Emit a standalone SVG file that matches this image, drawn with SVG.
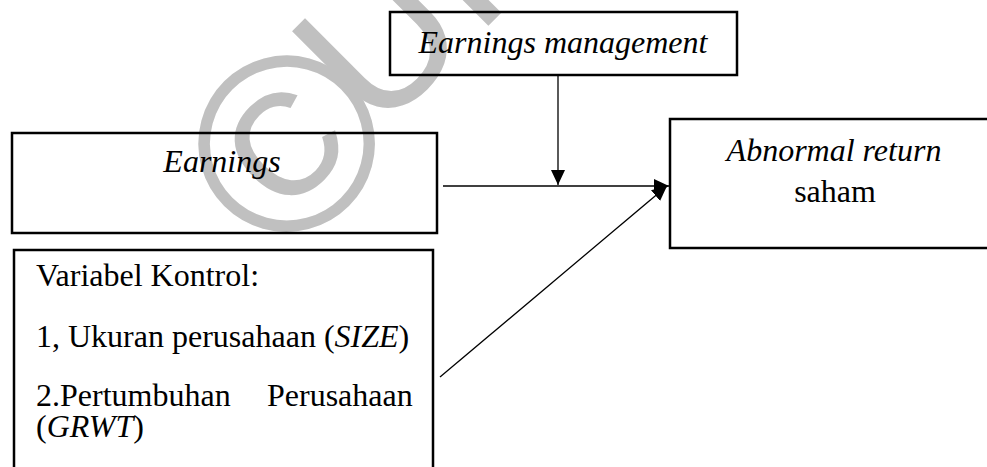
<svg xmlns="http://www.w3.org/2000/svg" width="987" height="467" viewBox="0 0 987 467">
<style>
.box{fill:none;stroke:#000;stroke-width:2.5}
.t{font-family:"Liberation Serif","Times New Roman",serif;font-size:32px;fill:#000}
.i{font-style:italic}
.wm{font-family:"Liberation Sans",Arial,sans-serif;font-size:196px;fill:#c0c0c0}
.c{fill:none;stroke:#000;stroke-width:1.3}
</style>
<defs>
<marker id="ah" markerUnits="userSpaceOnUse" markerWidth="16" markerHeight="16" refX="15" refY="7" orient="auto">
<path d="M0,0 L15,7 L0,14 z" fill="#000"/>
</marker>
</defs>
<rect width="987" height="467" fill="#fff"/>
<g id="watermark">
<text class="wm" style="font-size:250px" transform="translate(284,141) rotate(-45)" x="0" y="90" text-anchor="middle">©</text>
<text class="wm" transform="translate(275,239) rotate(-45)"><tspan x="144">UK</tspan></text>
</g>
<g id="em">
<rect class="box" x="390" y="12" width="347" height="63"/>
<text class="t i" x="563" y="53" text-anchor="middle">Earnings management</text>
</g>
<g id="earnings">
<rect class="box" x="12" y="133" width="425" height="100"/>
<text class="t i" x="222" y="172" text-anchor="middle">Earnings</text>
</g>
<g id="kontrol">
<rect class="box" x="14" y="250" width="419" height="260"/>
<text class="t" x="36" y="286">Variabel Kontrol:</text>
<text class="t" x="36" y="347">1, Ukuran perusahaan (<tspan class="i">SIZE</tspan>)</text>
<text class="t" x="36" y="406">2.Pertumbuhan</text>
<text class="t" x="267" y="406">Perusahaan</text>
<text class="t" x="36" y="437">(<tspan class="i">GRWT</tspan>)</text>
</g>
<g id="ar">
<rect class="box" x="670" y="119" width="340" height="129"/>
<text class="t i" x="834" y="161" text-anchor="middle">Abnormal return</text>
<text class="t" x="835" y="202" text-anchor="middle">saham</text>
</g>
<g id="connectors">
<line class="c" x1="558" y1="76" x2="558" y2="185" marker-end="url(#ah)"/>
<line class="c" x1="443" y1="186" x2="669" y2="186" marker-end="url(#ah)"/>
<line class="c" x1="440" y1="377" x2="667" y2="186" marker-end="url(#ah)"/>
</g>
</svg>
